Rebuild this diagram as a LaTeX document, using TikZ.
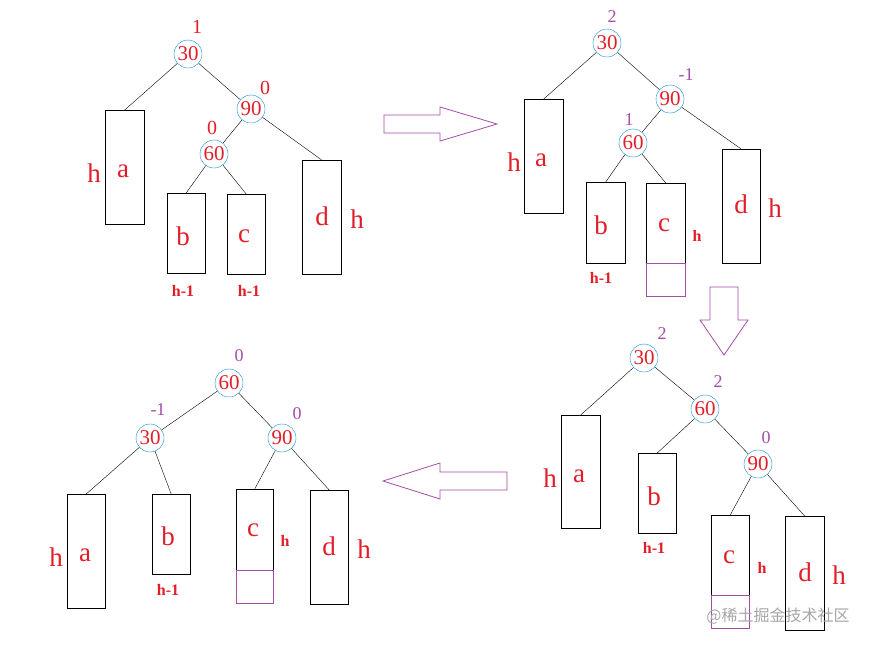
\documentclass[tikz,border=0pt]{standalone}
\usepackage{fontspec}
\setmainfont{Liberation Serif}
\newfontfamily\cjk{Noto Sans CJK SC}
\definecolor{tred}{RGB}{225,30,40}
\begin{document}
\begin{tikzpicture}[x=1pt,y=-1pt,
  circ/.style={circle,draw=cyan!70!blue,minimum size=28pt,inner sep=0pt,text=tred,font=\fontsize{21}{21}\selectfont},
  box/.style={draw=black,fill=white,inner sep=0pt,anchor=north west},
  big/.style={text=tred,font=\fontsize{27}{27}\selectfont},
  bal/.style={text=tred,font=\fontsize{20}{20}\selectfont},
  pbal/.style={text=violet!70,font=\fontsize{18}{18}\selectfont},
  small/.style={text=tred,font=\bfseries\fontsize{16}{16}\selectfont},
  pbox/.style={draw=violet!70,inner sep=0pt,anchor=north west},
  arr/.style={draw=violet!70,fill=white,line width=0.8pt}]
\useasboundingbox (0,0) rectangle (877,646);
\newcommand{\rbox}[5]{\node[box,minimum width=#3-#1,minimum height=#4-#2] (#5) at (#1,#2) {};}
% ---------- panel 1
\node[circ] (p30) at (188,54) {30};
\node[circ] (p90) at (251,109) {90};
\node[circ] (p60) at (214,154) {60};
\rbox{105}{110}{144}{224}{pa}
\rbox{167}{193}{205}{273}{pb}
\rbox{227}{194}{265}{274}{pc}
\rbox{302}{160}{341}{274}{pd}
\draw (p30) -- (pa.north); \draw (p30) -- (p90); \draw (p90) -- (p60); \draw (p90) -- (pd.north);
\draw (p60) -- (pb.north); \draw (p60) -- (pc.north);
\node[bal] at (197,27) {1}; \node[bal] at (265,88) {0}; \node[bal] at (212,128) {0};
\node[big] at (94,173) {h}; \node[big] at (123,171) {a}; \node[big] at (183,236) {b};
\node[big] at (244,236) {c}; \node[big] at (322,216) {d}; \node[big] at (357,219) {h};
\node[small] at (183,291) {h-1}; \node[small] at (249,291) {h-1};
% ---------- panel 2
\node[circ] (q30) at (607,43) {30};
\node[circ] (q90) at (670,99) {90};
\node[circ] (q60) at (633,143) {60};
\rbox{524}{99}{563}{213}{qa}
\rbox{586}{182}{625}{263}{qb}
\rbox{646}{183}{685}{263}{qc}
\rbox{722}{149}{760}{263}{qd}
\node[pbox,minimum width=39,minimum height=33] (qe) at (646,263) {};
\draw (q30) -- (qa.north); \draw (q30) -- (q90); \draw (q90) -- (q60); \draw (q90) -- (qd.north);
\draw (q60) -- (qb.north); \draw (q60) -- (qc.north);
\node[pbal] at (612,17) {2}; \node[pbal] at (686,75) {-1}; \node[pbal] at (629,120) {1};
\node[big] at (514,162) {h}; \node[big] at (541,160) {a}; \node[big] at (601,225) {b};
\node[big] at (664,225) {c}; \node[small] at (697,236) {h}; \node[big] at (741,204) {d};
\node[big] at (775,208) {h}; \node[small] at (601,278) {h-1};
% ---------- panel 3
\node[circ] (r30) at (644,358) {30};
\node[circ] (r60) at (705,409) {60};
\node[circ] (r90) at (758,464) {90};
\rbox{561}{415}{600}{528}{ra}
\rbox{638}{453}{676}{533}{rb}
\rbox{711}{515}{749}{595}{rc}
\rbox{785}{516}{824}{630}{rd}
\node[pbox,minimum width=38,minimum height=33] (re) at (711,595) {};
\draw (r30) -- (ra.north); \draw (r30) -- (r60); \draw (r60) -- (rb.north); \draw (r60) -- (r90);
\draw (r90) -- (rc.north); \draw (r90) -- (rd.north);
\node[pbal] at (662,334) {2}; \node[pbal] at (718,382) {2}; \node[pbal] at (766,438) {0};
\node[big] at (550,478) {h}; \node[big] at (579,476) {a}; \node[big] at (654,496) {b};
\node[big] at (729,557) {c}; \node[small] at (762,568) {h}; \node[big] at (805,572) {d};
\node[big] at (839,575) {h}; \node[small] at (654,548) {h-1};
% ---------- panel 4
\node[circ] (s60) at (229,383) {60};
\node[circ] (s30) at (150,438) {30};
\node[circ] (s90) at (282,438) {90};
\rbox{67}{494}{105}{608}{sa}
\rbox{152}{494}{190}{574}{sb}
\rbox{236}{489}{273}{570}{sc}
\rbox{310}{490}{348}{604}{sd}
\node[pbox,minimum width=37,minimum height=33] (se) at (236,570) {};
\draw (s60) -- (s30); \draw (s60) -- (s90); \draw (s30) -- (sa.north); \draw (s30) -- (sb.north);
\draw (s90) -- (sc.north); \draw (s90) -- (sd.north);
\node[pbal] at (239,356) {0}; \node[pbal] at (158,410) {-1}; \node[pbal] at (297,414) {0};
\node[big] at (56,557) {h}; \node[big] at (85,555) {a}; \node[big] at (168,536) {b};
\node[big] at (253,530) {c}; \node[small] at (285,541) {h}; \node[big] at (329,546) {d};
\node[big] at (364,549) {h}; \node[small] at (168,590) {h-1};
% ---------- arrows
\draw[arr] (384,115) -- (440,115) -- (440,107) -- (497,124) -- (440,141) -- (440,133) -- (384,133) -- cycle;
\draw[arr] (710,287) -- (738,287) -- (738,320) -- (748,320) -- (724,355) -- (700,320) -- (710,320) -- cycle;
\draw[arr] (507,472) -- (440,472) -- (440,463) -- (383,481) -- (440,499) -- (440,490) -- (507,490) -- cycle;
% watermark
\node[text=gray!70,font=\cjk\fontsize{16}{16}\selectfont] at (778,616) {@稀土掘金技术社区};
\end{tikzpicture}
\end{document}
